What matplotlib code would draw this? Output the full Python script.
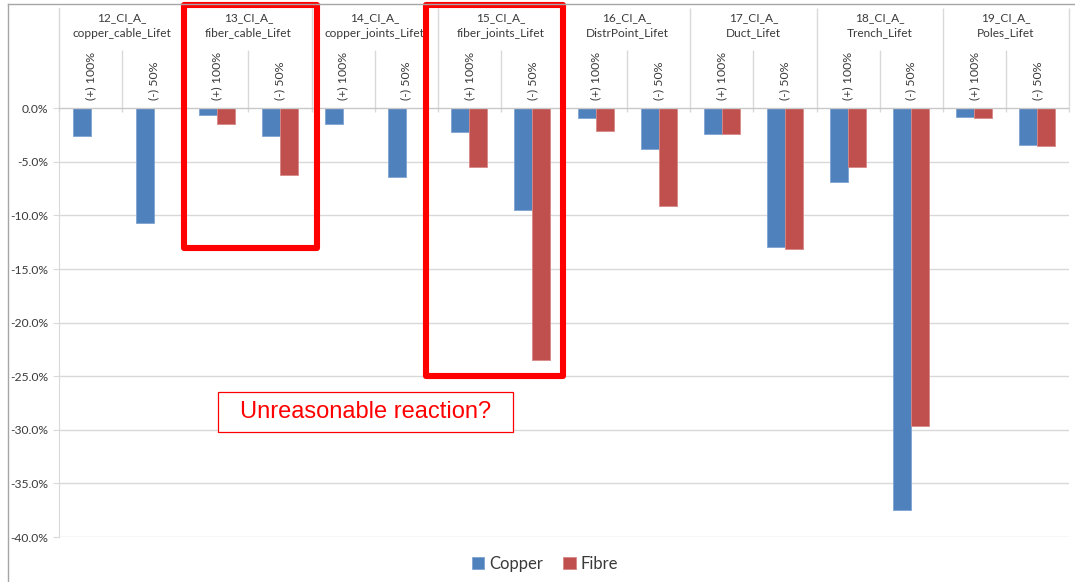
import matplotlib
matplotlib.use("Agg")
import matplotlib.pyplot as plt
import numpy as np
from matplotlib.patches import Rectangle
from matplotlib.lines import Line2D

# lifetime sensitivity cases, two scenarios per input parameter
groups = ["12_CI_A_\ncopper_cable_Lifet", "13_CI_A_\nfiber_cable_Lifet",
          "14_CI_A_\ncopper_joints_Lifet", "15_CI_A_\nfiber_joints_Lifet",
          "16_CI_A_\nDistrPoint_Lifet", "17_CI_A_\nDuct_Lifet",
          "18_CI_A_\nTrench_Lifet", "19_CI_A_\nPoles_Lifet"]
scenarios = ["(+) 100%", "(-) 50%"]

# change in result, percent (order: group x scenario)
copper = [-2.6, -10.7, -0.6, -2.6, -1.5, -6.4, -2.2, -9.5,
          -0.9, -3.8, -2.4, -12.9, -6.9, -37.5, -0.8, -3.4]
fibre = [0.0, 0.0, -1.5, -6.2, 0.0, 0.0, -5.5, -23.5,
         -2.1, -9.1, -2.4, -13.1, -5.5, -29.6, -0.9, -3.5]

COPPER_C = "#4F81BD"
FIBRE_C = "#C0504D"
GRID_C = "#d9d9d9"
TEXT_C = "#3a3a3a"
FONT = ["Lato", "DejaVu Sans"]

plt.rcParams["font.family"] = FONT

fig = plt.figure(figsize=(10.75, 5.82), dpi=100)
ax = fig.add_axes([59 / 1075, 1 - 537 / 582, 1010 / 1075, 529 / 582])

ymax = 40 * (108.3 - 8) / (537 - 108.3)
ax.set_xlim(0, 2 * len(groups))
ax.set_ylim(-40, ymax)

n = len(copper)
x = np.arange(n) + 0.5
w = 0.285
ax.bar(x - w / 2, copper, w, color=COPPER_C, edgecolor="#7ea3d3", linewidth=0.6, label="Copper", zorder=3)
ax.bar(x + w / 2, fibre, w, color=FIBRE_C, edgecolor="#d98886", linewidth=0.6, label="Fibre", zorder=3)

# value axis
yt = np.arange(-40, 1, 5)
ax.set_yticks(yt)
ax.set_yticklabels([f"{abs(v):.1f}%" if v == 0 else f"{v:.1f}%" for v in yt])
ax.tick_params(axis="y", length=4, color=GRID_C, pad=4, labelsize=8.7, labelcolor=TEXT_C)
ax.set_xticks([])
for v in yt[:-1]:
    ax.axhline(v, color=GRID_C, lw=1, zorder=1)
ax.axhline(0, color="#c8c8c8", lw=1, zorder=4)
for s in ["top", "right", "bottom"]:
    ax.spines[s].set_visible(False)
ax.spines["left"].set_color(GRID_C)
ax.spines["left"].set_bounds(-40, ymax)

# multi-level category header above the zero line
ax.vlines(np.arange(0, n + 1, 2), -0.35, ymax, color=GRID_C, lw=1, clip_on=False)
ax.vlines(np.arange(1, n, 2), -0.35, 5.4, color=GRID_C, lw=1, clip_on=False)
for g, name in enumerate(groups):
    top, bottom = name.split("\n")
    ax.text(2 * g + 1, 8.47, top, ha="center", va="center", fontsize=8.6, color=TEXT_C)
    ax.text(2 * g + 1, 7.02, bottom, ha="center", va="center", fontsize=8.6, color=TEXT_C)
for i in range(n):
    ax.text(x[i], 0.77, scenarios[i % 2], rotation=90, ha="center", va="bottom",
            fontsize=8.9, color=TEXT_C)

# highlight boxes
for x0, x1, y0 in [(1.988, 4.087, -13.08), (5.806, 7.992, -24.97)]:
    ax.add_patch(Rectangle((x0, y0), x1 - x0, 9.66 - y0, fill=False, edgecolor="#ff0000",
                           lw=4.4, joinstyle="round", clip_on=False, zorder=6))

ax.add_patch(Rectangle((2.519, -30.2), 7.192 - 2.519, 30.2 - 26.46, facecolor="white",
                       edgecolor="#ff0000", lw=0.9, zorder=5))
ax.text((2.519 + 7.192) / 2, -28.33, "Unreasonable reaction?", ha="center", va="center",
        fontsize=17, color="#ff0000", family="Liberation Sans", zorder=6)

fig.legend(loc="center", bbox_to_anchor=(0.507, 1 - 564 / 582), ncol=2, frameon=False,
           handlelength=0.75, handleheight=0.75, handletextpad=0.3, columnspacing=1.2,
           prop={"family": FONT, "size": 12}, labelcolor=TEXT_C)

# frame of the chart area
fig.add_artist(Line2D([8 / 1075, 8 / 1075], [0, 1 - 4 / 582], color="#a6a6a6", lw=1))
fig.add_artist(Line2D([8 / 1075, 1], [1 - 4 / 582, 1 - 4 / 582], color="#a6a6a6", lw=1))

fig.savefig("out.png", dpi=100)
